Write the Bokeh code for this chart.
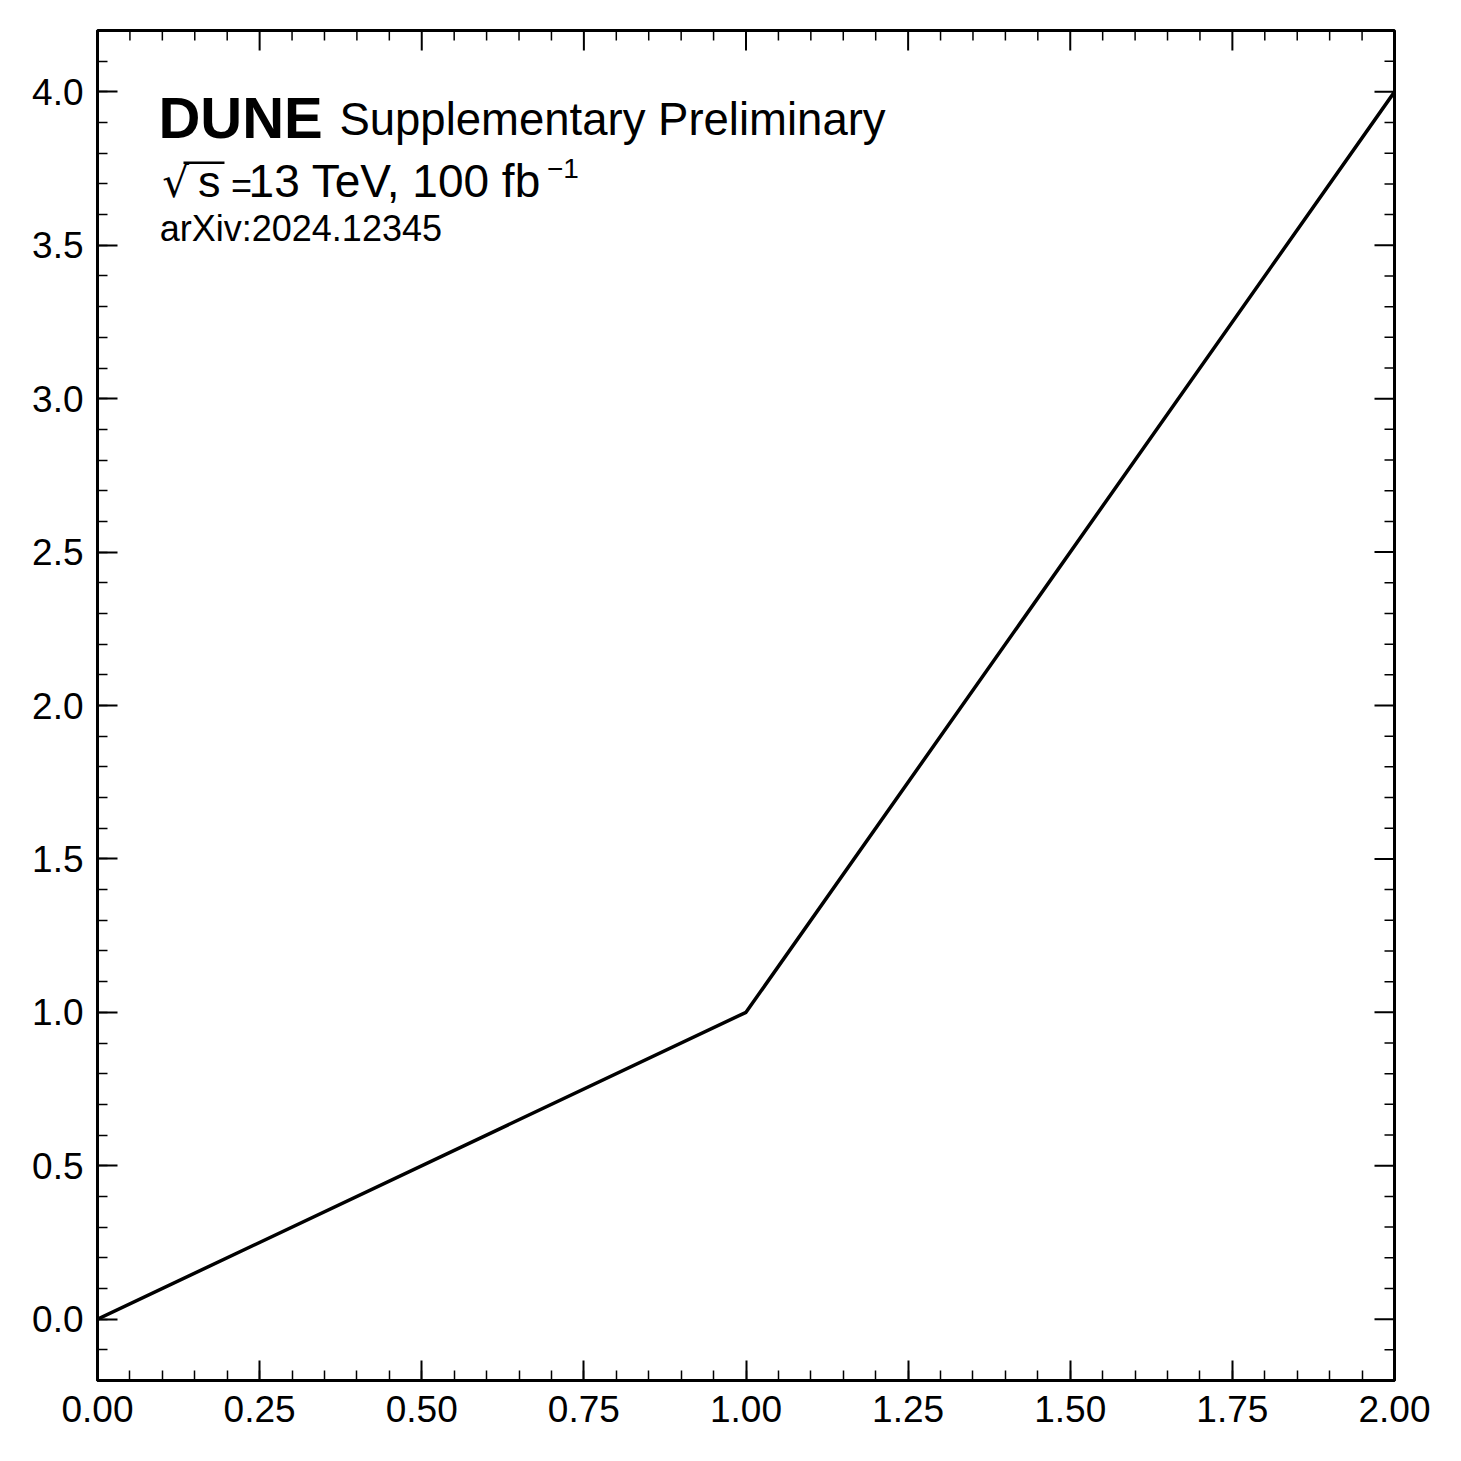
import numpy as np
from bokeh.plotting import figure
from bokeh.models import Range1d, SingleIntervalTicker, NumeralTickFormatter
from bokeh.core.properties import value
from bokeh.embed import file_html
from bokeh.resources import INLINE

# data
x_vals = [0.0, 1.0, 2.0]
y_vals = [0.0, 1.0, 4.0]

# tick positions for the mirrored (top / right) ticks
x_major = np.arange(0.0, 2.0001, 0.25)
x_minor = np.array([v for v in np.arange(0.0, 2.0001, 0.05) if abs(v / 0.25 - round(v / 0.25)) > 1e-6])
y_major = np.arange(0.0, 4.0001, 0.5)
y_minor = np.array([v for v in np.arange(-0.1, 4.2, 0.1) if abs(v / 0.5 - round(v / 0.5)) > 1e-6])

FONT = "Liberation Sans"
XMIN, XMAX, YMIN, YMAX = 0.0, 2.0, -0.2, 4.2

p = figure(frame_width=1297, frame_height=1350,
           x_range=Range1d(XMIN, XMAX), y_range=Range1d(YMIN, YMAX),
           output_backend="svg", toolbar_location=None,
           min_border_left=97, min_border_top=30,
           min_border_right=50, min_border_bottom=62,
           background_fill_color="white", border_fill_color="white")
p.xgrid.visible = False
p.ygrid.visible = False
p.outline_line_color = "black"
p.outline_line_width = 3

for ax in (p.xaxis[0], p.yaxis[0]):
    ax.axis_line_color = "black"
    ax.axis_line_width = 3
    ax.major_tick_in = 20
    ax.major_tick_out = 0
    ax.minor_tick_in = 10
    ax.minor_tick_out = 0
    ax.major_tick_line_width = 2
    ax.minor_tick_line_width = 1.5
    ax.major_tick_line_color = "black"
    ax.minor_tick_line_color = "black"
    ax.major_label_text_font = FONT
    ax.major_label_text_color = "black"
    ax.major_label_text_font_size = "37px"

p.xaxis.ticker = SingleIntervalTicker(interval=0.25, num_minor_ticks=5)
p.yaxis.ticker = SingleIntervalTicker(interval=0.5, num_minor_ticks=5)
p.xaxis.formatter = NumeralTickFormatter(format="0.00")
p.yaxis.formatter = NumeralTickFormatter(format="0.0")
p.xaxis.major_label_standoff = 15
p.yaxis.major_label_standoff = 14

# mirrored ticks on top and right, pointing inward
p.ray(x=x_major, y=[YMAX] * len(x_major), length=20, length_units="screen",
      angle=-np.pi / 2, line_color="black", line_width=2)
p.ray(x=x_minor, y=[YMAX] * len(x_minor), length=10, length_units="screen",
      angle=-np.pi / 2, line_color="black", line_width=1.5)
p.ray(x=[XMAX] * len(y_major), y=y_major, length=20, length_units="screen",
      angle=np.pi, line_color="black", line_width=2)
p.ray(x=[XMAX] * len(y_minor), y=y_minor, length=10, length_units="screen",
      angle=np.pi, line_color="black", line_width=1.5)

p.line(x_vals, y_vals, line_color="black", line_width=3.5)

def lab(x, y, t, size, style="normal", font=FONT):
    p.text(x=[x], y=[y], text=[t], text_font=value(font), text_font_size=size,
           text_font_style=style, text_color="black",
           text_baseline="alphabetic", text_align="left")

lab(0.094, 3.915, "DUNE", "58px", "bold")
lab(0.373, 3.910, "Supplementary Preliminary", "45.5px")
lab(0.100, 3.703, "√", "42px", font="DejaVu Sans")
lab(0.155, 3.707, "s", "45px")
p.segment(x0=[0.1326], y0=[3.769], x1=[0.1958], y1=[3.769], line_color="black", line_width=2.5)
lab(0.2060, 3.695, "=", "36px")
lab(0.2330, 3.708, "13 TeV, 100 fb", "46px")
lab(0.6930, 3.750, "−1", "28px")
lab(0.0960, 3.556, "arXiv:2024.12345", "36px")

open("out.html", "w").write(file_html(p, INLINE))
